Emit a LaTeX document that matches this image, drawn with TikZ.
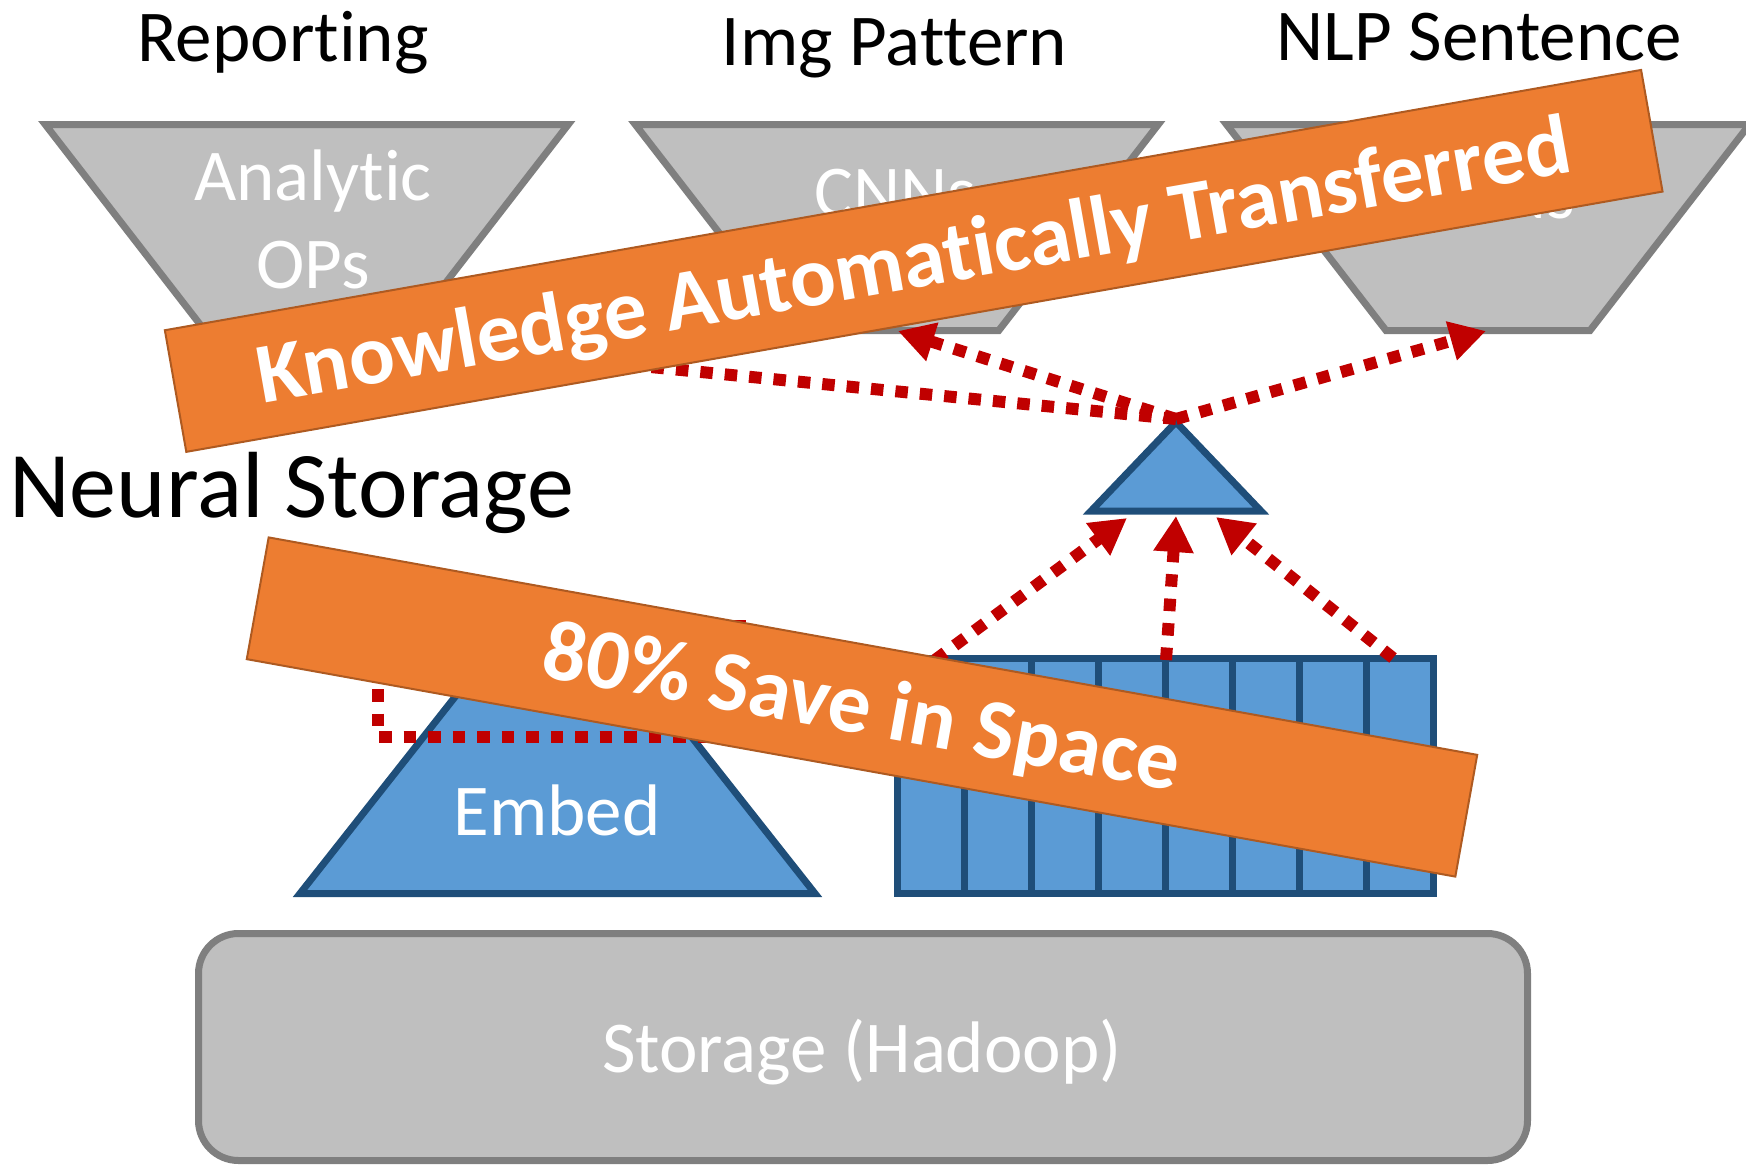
\documentclass[tikz,border=0pt]{standalone}
\usepackage{fontspec}
\setmainfont{Carlito}[Ligatures=NoCommon]
\usetikzlibrary{arrows.meta}
\definecolor{grayfill}{HTML}{BFBFBF}
\definecolor{graydraw}{HTML}{7F7F7F}
\definecolor{bluefill}{HTML}{5B9BD5}
\definecolor{bluedraw}{HTML}{1F4E79}
\definecolor{orangefill}{HTML}{ED7D31}
\definecolor{orangedraw}{HTML}{AE5A21}
\definecolor{darkred}{HTML}{C00000}
\begin{document}
\begin{tikzpicture}[x=1pt,y=-1pt,
  graybox/.style={fill=grayfill,draw=graydraw,line width=7pt},
  bluebox/.style={fill=bluefill,draw=bluedraw,line width=7pt},
  title/.style={anchor=base,inner sep=0pt,font=\fontsize{73}{88}\selectfont},
  intext/.style={title,text=white},
  dotline/.style={draw=darkred,line width=12pt,dash pattern=on 12.5pt off 12pt},
  flow/.style={dotline,-{Triangle[length=36pt,width=38pt]}},
  banner/.style={fill=orangefill,draw=orangedraw,line width=2pt,text=white,
    font=\bfseries\fontsize{85.5}{85.5}\selectfont,text height=54pt,text depth=0pt,inner sep=0pt}
]
\useasboundingbox (0,0) rectangle (1746,1168);

% titles
\node[title] (rep) at (283,61.7) {Reporting};
\node[title] (img) at (894.5,65) {Img Pattern};
\node[title] (nlp) at (1479,60.7) {NLP Sentence};

% top trapezoids
\foreach \c in {306.75,896.75,1488}{
  \draw[graybox] (\c-261.5,124.5) -- (\c+261.5,124.5) -- (\c+102,330.5) -- (\c-102,330.5) -- cycle;
}
\node[intext] (ana) at (313,200) {Analytic};
\node[intext] (ops) at (313,288) {OPs};
\node[intext] (cnn) at (895,216) {CNNs};
\node[intext] (rnn) at (1494,218) {RNNs};

% storage box
\draw[graybox,rounded corners=40pt] (198.5,933.5) rectangle (1527.5,1160.5);
\node[intext] (sto) at (862,1072) {Storage (Hadoop)};

% embed trapezoid
\draw[bluebox] (300,893.5) -- (492,650) -- (623,650) -- (815,893.5) -- cycle;
\node[intext] (emb) at (557,835) {Embed};

% column block
\draw[bluebox] (897.5,658.5) rectangle (1433.5,893.5);
\foreach \i in {1,...,7}{
  \draw[draw=bluedraw,line width=7pt] (897.5+67*\i,658.5) -- (897.5+67*\i,893.5);
}

% small triangle
\draw[bluebox] (1176,422) -- (1261,511) -- (1091,511) -- cycle;

% coordinates
\coordinate (apex) at (1176,419);
\coordinate (t1b) at (307,333);
\coordinate (t2b) at (898,331);
\coordinate (t3b) at (1486,331);
\coordinate (s1) at (935,660);
\coordinate (s2) at (1166,660);
\coordinate (s3) at (1393,658);
\coordinate (e1) at (1127,518);
\coordinate (e2) at (1176,516);
\coordinate (e3) at (1216,517);
\coordinate (k1) at (378,640);
\coordinate (k2) at (378,737);
\coordinate (k3) at (740,737);
\coordinate (k4) at (740,615);

% arrows
\draw[flow] (apex) -- (t1b);
\draw[flow] (apex) -- (t2b);
\draw[flow] (apex) -- (t3b);
\draw[flow] (s1) -- (e1);
\draw[flow] (s2) -- (e2);
\draw[flow] (s3) -- (e3);
\draw[dotline] (k1) -- (k2) -- (k3) -- (k4);

% neural storage label
\node[anchor=base west,inner sep=0pt,font=\fontsize{94}{100}\selectfont] (ns) at (9,517) {Neural Storage};

% banners
\node[banner,rotate=10,minimum width=1499pt,minimum height=123.5pt] (kat) at (913.7,260.9) {Knowledge Automatically Transferred};
\node[banner,rotate=-10.2,minimum width=1228pt,minimum height=123.7pt] (sav) at (862,707) {80\% Save in Space};
\end{tikzpicture}
\end{document}
